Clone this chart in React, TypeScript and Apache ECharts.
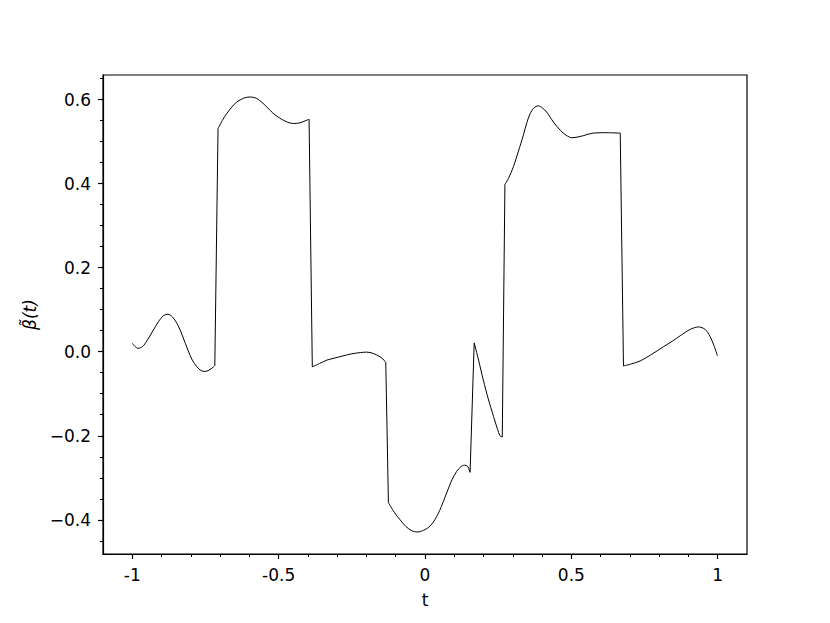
import React, { useEffect, useRef } from 'react';
import * as echarts from 'echarts';

const tValues = [
  -1.0, -0.99, -0.98, -0.965, -0.95, -0.93, -0.91, -0.893, -0.878, -0.862, -0.844, -0.827, -0.81, -0.795,
  -0.779, -0.765, -0.752, -0.738, -0.724, -0.718,
  -0.707, -0.69, -0.678, -0.66, -0.643, -0.62, -0.6, -0.58, -0.56, -0.54, -0.52, -0.497, -0.47, -0.45,
  -0.43, -0.41, -0.396,
  -0.385, -0.36, -0.335, -0.314, -0.28, -0.25, -0.22, -0.199, -0.177, -0.154, -0.14, -0.134,
  -0.125, -0.105, -0.085, -0.065, -0.045, -0.026, -0.005, 0.01, 0.028, 0.05, 0.074, 0.092, 0.108, 0.122,
  0.135, 0.146, 0.154,
  0.168, 0.183, 0.199, 0.216, 0.234, 0.248, 0.256, 0.264,
  0.273, 0.285, 0.302, 0.319, 0.336, 0.348, 0.359, 0.372, 0.387, 0.401, 0.416, 0.439, 0.462, 0.482, 0.502,
  0.53, 0.575, 0.621, 0.667,
  0.678, 0.705, 0.735, 0.775, 0.815, 0.845, 0.872, 0.906, 0.934, 0.957, 0.974, 0.987, 0.999,
];

const betaValues = [
  0.02, 0.012, 0.008, 0.012, 0.026, 0.049, 0.072, 0.086, 0.089, 0.082, 0.063, 0.035, 0.004, -0.02,
  -0.036, -0.045, -0.047, -0.044, -0.037, -0.033,
  0.531, 0.553, 0.566, 0.582, 0.594, 0.603, 0.606, 0.604, 0.595, 0.582, 0.568, 0.556, 0.546, 0.543,
  0.544, 0.549, 0.553,
  -0.036, -0.028, -0.02, -0.016, -0.01, -0.005, -0.002, -0.001, -0.004, -0.012, -0.02, -0.026,
  -0.359, -0.382, -0.4, -0.416, -0.426, -0.429, -0.425, -0.419, -0.406, -0.378, -0.336, -0.305, -0.285, -0.274,
  -0.27, -0.273, -0.287,
  0.021, -0.02, -0.067, -0.112, -0.154, -0.185, -0.2, -0.203,
  0.398, 0.412, 0.44, 0.477, 0.515, 0.545, 0.566, 0.58, 0.585, 0.58, 0.57, 0.546, 0.527, 0.515, 0.509,
  0.512, 0.52, 0.521, 0.52,
  -0.034, -0.029, -0.022, -0.006, 0.012, 0.025, 0.038, 0.053, 0.059, 0.053, 0.036, 0.015, -0.01,
];

const xTickValues = [-1, -0.5, 0, 0.5, 1];
const xTickLabels = ['-1', '-0.5', '0', '0.5', '1'];
const xMinorTicks = [
  -1.0, -0.9, -0.8, -0.7, -0.6, -0.5, -0.4, -0.3, -0.2, -0.1, 0, 0.1, 0.2, 0.3, 0.4, 0.5, 0.6, 0.7, 0.8, 0.9, 1.0,
];
const yTickValues = [-0.4, -0.2, 0, 0.2, 0.4, 0.6];
const yTickLabels = ['\u22120.4', '\u22120.2', '0.0', '0.2', '0.4', '0.6'];
const yMinorTicks = [
  -0.45, -0.4, -0.35, -0.3, -0.25, -0.2, -0.15, -0.1, -0.05, 0, 0.05, 0.1, 0.15, 0.2, 0.25, 0.3, 0.35, 0.4,
  0.45, 0.5, 0.55, 0.6, 0.65,
];

const X_MIN = -1.1;
const X_MAX = 1.1;
const Y_MIN = -0.4813;
const Y_MAX = 0.6583;
const JUMP_THRESHOLD = 0.15;

const FONT = 'DejaVu Sans';
const FONT_SIZE = 17;

function labelFor(values: number[], labels: string[], v: number): string {
  for (let i = 0; i < values.length; i++) {
    if (Math.abs(values[i] - v) < 1e-9) return labels[i];
  }
  return '';
}

function buildSeries() {
  const pts = tValues.map((t, i) => [t, betaValues[i]]);
  const smoothPieces: number[][][] = [];
  const jumpPieces: number[][][] = [];
  let cur: number[][] = [pts[0]];
  for (let i = 1; i < pts.length; i++) {
    if (Math.abs(pts[i][1] - pts[i - 1][1]) > JUMP_THRESHOLD) {
      smoothPieces.push(cur);
      jumpPieces.push([pts[i - 1], pts[i]]);
      cur = [pts[i]];
    } else {
      cur.push(pts[i]);
    }
  }
  smoothPieces.push(cur);
  const lineStyle = { color: '#000', width: 1 };
  const series: any[] = [];
  smoothPieces.forEach((p) =>
    series.push({ type: 'line', data: p, showSymbol: false, smooth: 0.3, lineStyle })
  );
  jumpPieces.forEach((p) =>
    series.push({ type: 'line', data: p, showSymbol: false, smooth: false, lineStyle })
  );
  return series;
}

export default function App() {
  const ref = useRef<HTMLDivElement>(null);

  useEffect(() => {
    if (!ref.current) return;
    const chart = echarts.init(ref.current, undefined, { renderer: 'svg' });
    const axisLineStyle = { color: '#000', width: 1.2 };
    chart.setOption({
      animation: false,
      backgroundColor: '#fff',
      grid: {
        left: 103,
        right: 83,
        top: 75,
        bottom: 69,
        show: true,
        borderColor: '#000',
        borderWidth: 1.2,
        backgroundColor: 'transparent',
      },
      xAxis: [
        {
          type: 'value',
          min: X_MIN,
          max: X_MAX,
          position: 'bottom',
          axisLine: { show: true, onZero: false, lineStyle: axisLineStyle },
          axisTick: { show: true, customValues: xTickValues, length: 5, lineStyle: axisLineStyle },
          axisLabel: {
            customValues: xTickValues,
            formatter: (v: number) => labelFor(xTickValues, xTickLabels, v),
            color: '#000',
            fontFamily: FONT,
            fontSize: FONT_SIZE,
            margin: 12,
          },
          splitLine: { show: false },
          name: 't',
          nameLocation: 'middle',
          nameGap: 37,
          nameTextStyle: { color: '#000', fontFamily: FONT, fontSize: FONT_SIZE },
        },
        {
          type: 'value',
          min: X_MIN,
          max: X_MAX,
          position: 'bottom',
          axisLine: { show: false, onZero: false },
          axisTick: { show: true, customValues: xMinorTicks, length: 3, lineStyle: { color: '#000', width: 1 } },
          axisLabel: { show: false },
          splitLine: { show: false },
        },
      ],
      yAxis: [
        {
          type: 'value',
          min: Y_MIN,
          max: Y_MAX,
          position: 'left',
          axisLine: { show: true, onZero: false, lineStyle: axisLineStyle },
          axisTick: { show: true, customValues: yTickValues, length: 5, lineStyle: axisLineStyle },
          axisLabel: {
            customValues: yTickValues,
            formatter: (v: number) => labelFor(yTickValues, yTickLabels, v),
            color: '#000',
            fontFamily: FONT,
            fontSize: FONT_SIZE,
            margin: 12,
          },
          splitLine: { show: false },
          name: '\u03B2\u0303(t)',
          nameLocation: 'middle',
          nameGap: 64,
          nameRotate: 90,
          nameTextStyle: { color: '#000', fontFamily: FONT, fontSize: FONT_SIZE, fontStyle: 'italic' },
        },
        {
          type: 'value',
          min: Y_MIN,
          max: Y_MAX,
          position: 'left',
          axisLine: { show: false, onZero: false },
          axisTick: { show: true, customValues: yMinorTicks, length: 3, lineStyle: { color: '#000', width: 1 } },
          axisLabel: { show: false },
          splitLine: { show: false },
        },
      ],
      series: buildSeries(),
    });
    return () => chart.dispose();
  }, []);

  return (
    <div
      ref={ref}
      style={{ position: 'absolute', left: 0, top: 0, width: 830, height: 623 }}
    />
  );
}
